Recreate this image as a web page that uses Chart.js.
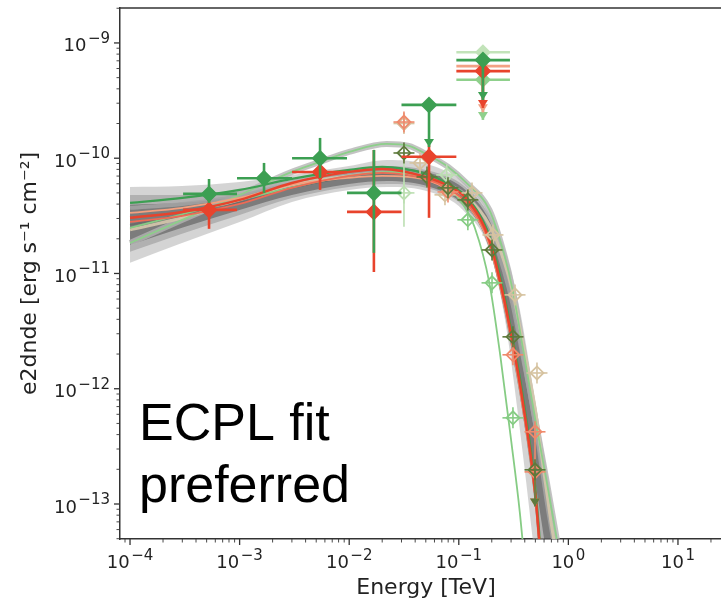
<!DOCTYPE html>
<html>
<head>
<meta charset="utf-8">
<script src="https://cdn.jsdelivr.net/npm/chart.js@4.4.1/dist/chart.umd.min.js"></script>
<style>
html,body{margin:0;padding:0;background:#fff;}
#wrap{width:721px;height:600px;position:relative;}
canvas{display:block;}
</style>
</head>
<body>
<div id="wrap"><canvas id="c" width="721" height="600"></canvas></div>
<script>
// ---------- axis ticks & titles ----------
const X_MAJOR = [1e-4, 1e-3, 1e-2, 1e-1, 1, 10];
const Y_MAJOR = [1e-13, 1e-12, 1e-11, 1e-10, 1e-9];
const X_TITLE = 'Energy [TeV]';
const Y_TITLE = 'e2dnde [erg s\u207B\u00B9 cm\u207B\u00B2]';
const NOTE_LINES = ['ECPL fit', 'preferred'];

// ---------- model bands (energy in TeV, e2dnde in erg s-1 cm-2) ----------
const BAND_E  = [1.0e-4, 2.98e-4, 1.0e-3, 3.0e-3, 9.95e-3, 2.21e-2, 5.46e-2, 0.109, 0.193, 0.264, 0.361, 0.496, 0.679, 0.931];
const WIDE_HI = [5.64e-11, 5.75e-11, 6.23e-11, 7.16e-11, 8.57e-11, 9.66e-11, 8.75e-11, 6.23e-11, 3.22e-11, 1.60e-11, 4.83e-12, 8.0e-13, 1.33e-13, 1.8e-14];
const WIDE_LO = [1.24e-11, 1.84e-11, 2.80e-11, 4.18e-11, 5.31e-11, 5.64e-11, 5.10e-11, 3.56e-11, 1.54e-11, 3.96e-12, 4.40e-13, 3.28e-14, 2.0e-15, 2.7e-16];
const MED_HI  = [4.80e-11, 4.80e-11, 5.31e-11, 6.48e-11, 7.91e-11, 8.57e-11, 7.76e-11, 5.87e-11, 3.10e-11, 1.45e-11, 3.96e-12, 7.25e-13, 1.09e-13, 9.9e-15];
const MED_LO  = [1.54e-11, 2.21e-11, 3.22e-11, 4.52e-11, 5.64e-11, 5.98e-11, 5.42e-11, 3.86e-11, 1.74e-11, 5.34e-12, 8.85e-13, 1.09e-13, 1.48e-14, 1.34e-15];
const DARK_HI = [3.94e-11, 4.10e-11, 4.71e-11, 6.10e-11, 7.61e-11, 8.24e-11, 7.46e-11, 5.53e-11, 2.80e-11, 1.19e-11, 3.24e-12, 5.37e-13, 7.29e-14, 6.64e-15];
const DARK_LO = [1.77e-11, 2.49e-11, 3.56e-11, 4.80e-11, 5.98e-11, 6.35e-11, 5.64e-11, 4.01e-11, 1.88e-11, 5.90e-12, 1.08e-12, 1.62e-13, 2.20e-14, 2.0e-15];

// ---------- model curves ----------
const MODEL_E      = [1e-4, 3e-4, 1e-3, 3e-3, 1e-2, 2e-2, 5e-2, 8e-2, 0.12, 0.19, 0.26, 0.31, 0.38, 0.5, 0.56, 0.63];
const RED_MODEL    = [3.04e-11, 3.42e-11, 4.35e-11, 6.10e-11, 7.61e-11, 8.07e-11, 6.88e-11, 5.75e-11, 4.35e-11, 1.96e-11, 5.90e-12, 2.50e-12, 8.17e-13, 1.20e-13, 3.28e-14, 7.63e-15];
const GREEN_MODEL  = [4.10e-11, 4.52e-11, 5.31e-11, 6.61e-11, 7.91e-11, 8.40e-11, 7.31e-11, 5.98e-11, 4.52e-11, 2.12e-11, 6.52e-12, 2.76e-12, 9.21e-13, 1.38e-13, 3.77e-14, 8.96e-15];
const GRAY_MODEL   = [2.64e-11, 3.22e-11, 4.10e-11, 5.53e-11, 6.88e-11, 7.31e-11, 6.48e-11, 5.31e-11, 3.94e-11, 1.74e-11, 5.24e-12, 2.17e-12, 7.25e-13, 1.09e-13, 2.97e-14, 6.64e-15];
const SALMON_MODEL = [3.35e-11, 3.71e-11, 4.52e-11, 5.87e-11, 6.75e-11, 7.02e-11, 6.48e-11, 5.31e-11, 3.94e-11, 1.77e-11, 5.34e-12, 2.26e-12, 7.25e-13, 1.13e-13, 3.28e-14, 8.1e-15];
const LRED_MODEL   = [2.80e-11, 3.16e-11, 4.01e-11, 5.53e-11, 7.02e-11, 7.46e-11, 6.61e-11, 5.42e-11, 4.01e-11, 1.84e-11, 5.56e-12, 2.40e-12, 7.70e-13, 1.15e-13, 3.15e-14, 7.34e-15];

const WIDE_MODEL_E = [1e-4, 3e-4, 1e-3, 3e-3, 1e-2, 2e-2, 5e-2, 8e-2, 0.12, 0.19, 0.26, 0.31, 0.38, 0.5, 0.56, 0.63, 0.7, 0.8];
const GRAY2_MODEL  = [3.71e-11, 4.01e-11, 4.71e-11, 5.98e-11, 7.31e-11, 7.76e-11, 7.02e-11, 5.87e-11, 4.62e-11, 2.49e-11, 1.03e-11, 5.34e-12, 1.97e-12, 4.86e-13, 2.32e-13, 1.09e-13, 5.97e-14, 2.97e-14];
const TAN_MODEL    = [2.39e-11, 3.04e-11, 4.35e-11, 5.87e-11, 7.02e-11, 7.46e-11, 6.75e-11, 5.64e-11, 4.52e-11, 2.64e-11, 1.26e-11, 6.92e-12, 2.65e-12, 6.56e-13, 2.95e-13, 1.33e-13, 6.6e-14, 3.15e-14];

const ARC_E     = [1e-4, 3e-4, 1e-3, 3e-3, 5.4e-3, 1e-2, 2.2e-2, 3.5e-2, 5e-2, 8e-2, 0.12, 0.19, 0.26, 0.31, 0.38, 0.5, 0.63, 0.8, 0.93];
const ARC_MODEL = [1.84e-11, 2.92e-11, 4.80e-11, 7.61e-11, 9.29e-11, 1.134e-10, 1.33e-10, 1.28e-10, 1.09e-10, 8.40e-11, 5.98e-11, 3.56e-11, 1.45e-11, 7.21e-12, 2.40e-12, 5.37e-13, 1.62e-13, 4.43e-14, 1.80e-14];

const STEEP_E     = [1e-4, 1e-3, 1e-2, 2.5e-2, 5e-2, 8e-2, 0.11, 0.14, 0.19, 0.24, 0.3, 0.36, 0.42];
const STEEP_MODEL = [2.49e-11, 4.35e-11, 7.02e-11, 7.61e-11, 6.75e-11, 5.53e-11, 3.94e-11, 2.49e-11, 8.29e-12, 1.89e-12, 3.60e-13, 8.56e-14, 1.80e-14];

// ---------- flux points: filled diamonds ----------
const GREEN_E   = [5.26e-4, 1.67e-3, 5.42e-3, 1.68e-2, 5.35e-2, 0.166];
const GREEN_F   = [4.9e-11, 6.7e-11, 1.0e-10, 5.0e-11, 2.9e-10, 7.1e-10];
const GREEN_ELO = [3.05e-4, 9.47e-4, 3.01e-3, 9.55e-3, 3.0e-2, 9.5e-2];
const GREEN_EHI = [9.47e-4, 3.01e-3, 9.55e-3, 3.0e-2, 9.5e-2, 0.293];
const GREEN_FLO = [4.1e-11, 5.0e-11, 6.75e-11, 1.51e-11, 1.25e-10, 3.2e-10];
const GREEN_FHI = [6.6e-11, 9.1e-11, 1.5e-10, 1.18e-10, 2.9e-10, 7.1e-10];
const GREEN_UL  = [false, false, false, false, true, true];

const RED_E   = [5.26e-4, 5.42e-3, 1.68e-2, 5.35e-2, 0.166];
const RED_F   = [3.56e-11, 7.6e-11, 3.42e-11, 1.03e-10, 5.7e-10];
const RED_ELO = [3.05e-4, 3.01e-3, 9.55e-3, 3.0e-2, 9.5e-2];
const RED_EHI = [9.47e-4, 9.55e-3, 3.0e-2, 9.5e-2, 0.293];
const RED_FLO = [2.44e-11, 5.31e-11, 1.03e-11, 3.04e-11, 2.73e-10];
const RED_FHI = [4.8e-11, 9.3e-11, 1.18e-10, 1.3e-10, 5.7e-10];
const RED_UL  = [false, false, false, false, true];

const LGREEN_E = [0.166], LGREEN_F = [4.8e-10], LGREEN_ELO = [9.5e-2], LGREEN_EHI = [0.293], LGREEN_FLO = [2.15e-10], LGREEN_FHI = [4.8e-10];
const PGREEN_E = [0.166], PGREEN_F = [8.3e-10], PGREEN_ELO = [9.5e-2], PGREEN_EHI = [0.293];
const SALM_E   = [0.166], SALM_F   = [6.3e-10], SALM_ELO   = [9.5e-2], SALM_EHI   = [0.293], SALM_FLO = [2.5e-10], SALM_FHI = [6.3e-10];

// ---------- flux points: open diamonds ----------
const OLIVE_E = [3.16e-2, 5.13e-2, 7.97e-2, 0.121, 0.201, 0.312, 0.496];
const OLIVE_F = [1.11e-10, 6.88e-11, 5.53e-11, 4.35e-11, 1.60e-11, 2.82e-12, 1.98e-13];
const OLIVE_FLO = [null, null, null, null, null, null, 9.5e-14];
const LGO_E = [0.121, 0.201, 0.312];
const LGO_F = [2.92e-11, 8.29e-12, 5.59e-13];
const SALMO_E = [3.16e-2, 7.97e-2, 0.312, 0.496, 0.496];
const SALMO_F = [2.06e-10, 5.10e-11, 1.97e-12, 4.23e-13, 1.9e-13];
const SALMO_FLO = [null, null, null, 1.98e-13, 9.5e-14];
const TANO_E = [3.16e-2, 4.43e-2, 7.48e-2, 0.132, 0.205, 0.326, 0.517];
const TANO_F = [2.0e-10, 9.1e-11, 4.81e-11, 5.0e-11, 2.16e-11, 6.52e-12, 1.37e-12];
const PALEO_E = [3.16e-2, 7.76e-2];
const PALEO_F = [5.0e-11, 7.16e-11];
const PALEO_FLO = [2.54e-11, null];
const PALEO_FHI = [1.18e-10, null];

// ---------- helpers ----------
const pts = (E, F) => E.map((e, i) => ({x: e, y: F[i]}));
function logTickList(min, max) {
  const out = [];
  const e0 = Math.floor(Math.log10(min)), e1 = Math.floor(Math.log10(max));
  for (let e = e0; e <= e1; e++) {
    for (let k = 1; k <= 9; k++) {
      const v = Number((k * Math.pow(10, e)).toPrecision(6));
      if (v >= min * 0.999 && v <= max * 1.001) out.push({value: v, major: k === 1});
    }
  }
  return out;
}
const isMajorVal = (v, majors) => majors.some(m => Math.abs(Math.log10(v) - Math.log10(m)) < 1e-6);

function band(E, HI, LO, color, order) {
  return [
    {data: pts(E, HI), showLine: true, borderWidth: 0, pointRadius: 0, fill: false, order: order, cubicInterpolationMode: 'monotone'},
    {data: pts(E, LO), showLine: true, borderWidth: 0, pointRadius: 0, fill: '-1', backgroundColor: color, order: order, cubicInterpolationMode: 'monotone'}
  ];
}
function curve(E, F, color, width, order) {
  return {data: pts(E, F), showLine: true, borderColor: color, borderWidth: width, pointRadius: 0, fill: false, order: order, cubicInterpolationMode: 'monotone'};
}
function filled(E, F, color, radius, err, order) {
  return {data: pts(E, F), showLine: false, pointStyle: 'rectRot', pointRadius: radius, pointBackgroundColor: color, pointBorderColor: color, pointBorderWidth: 0, err: err, errColor: color, errWidth: 2.6, order: order};
}
function open(E, F, color, err, order) {
  return {data: pts(E, F), showLine: false, pointStyle: 'rectRot', pointRadius: 6.5, pointBackgroundColor: 'rgba(255,255,255,0)', pointBorderColor: color, pointBorderWidth: 1.8, crossMarker: true, err: err, errColor: color, errWidth: 1.6, order: order};
}

const datasets = [
  ...band(BAND_E, WIDE_HI, WIDE_LO, 'rgba(170,170,170,0.5)', 300),
  ...band(BAND_E, MED_HI, MED_LO, 'rgba(125,125,125,0.4)', 290),
  ...band(BAND_E, DARK_HI, DARK_LO, 'rgba(60,60,60,0.45)', 280),
  curve(ARC_E, ARC_MODEL, 'rgba(180,180,180,0.8)', 6, 200),
  curve(WIDE_MODEL_E, GRAY2_MODEL, 'rgba(165,165,165,0.85)', 4, 195),
  curve(WIDE_MODEL_E, TAN_MODEL, 'rgba(214,200,172,0.9)', 3, 190),
  curve(MODEL_E, GRAY_MODEL, 'rgba(105,105,105,0.8)', 2, 185),
  curve(ARC_E, ARC_MODEL, '#8dcf8a', 1.8, 180),
  curve(STEEP_E, STEEP_MODEL, '#86cc84', 1.8, 175),
  curve(MODEL_E, SALMON_MODEL, '#f4a07f', 1.8, 170),
  curve(MODEL_E, LRED_MODEL, '#ef6a55', 1.8, 165),
  curve(MODEL_E, GREEN_MODEL, '#3c9f52', 2.2, 160),
  curve(MODEL_E, RED_MODEL, '#e8432c', 2.5, 155),
  open(TANO_E, TANO_F, '#d6c3a0', null, 60),
  open(PALEO_E, PALEO_F, '#bcdfb2', {ylo: PALEO_FLO, yhi: PALEO_FHI}, 58),
  open(LGO_E, LGO_F, '#86cc84', null, 56),
  open(SALMO_E, SALMO_F, '#ef8a6c', {ylo: SALMO_FLO, yhi: SALMO_F, ul: [false, false, false, false, true]}, 54),
  open(OLIVE_E, OLIVE_F, '#5e7a3c', {ylo: OLIVE_FLO, yhi: OLIVE_F, ul: [false, false, false, false, false, false, true]}, 52),
  filled(PGREEN_E, PGREEN_F, '#c2e3b9', 8, {xlo: PGREEN_ELO, xhi: PGREEN_EHI}, 40),
  filled(LGREEN_E, LGREEN_F, '#8fd08c', 8, {xlo: LGREEN_ELO, xhi: LGREEN_EHI, ylo: LGREEN_FLO, yhi: LGREEN_FHI, ul: [true]}, 38),
  filled(SALM_E, SALM_F, '#f3a184', 6, {xlo: SALM_ELO, xhi: SALM_EHI, ylo: SALM_FLO, yhi: SALM_FHI, ul: [true]}, 36),
  filled(RED_E, RED_F, '#e8432c', 8.5, {xlo: RED_ELO, xhi: RED_EHI, ylo: RED_FLO, yhi: RED_FHI, ul: RED_UL}, 34),
  filled(GREEN_E, GREEN_F, '#3c9f52', 8.5, {xlo: GREEN_ELO, xhi: GREEN_EHI, ylo: GREEN_FLO, yhi: GREEN_FHI, ul: GREEN_UL}, 32)
];

// ---------- plugins ----------
const errPlugin = {
  id: 'errbars',
  beforeDatasetDraw(chart, args) {
    const ds = chart.data.datasets[args.index];
    if (!ds.err && !ds.crossMarker) return;
    const xs = chart.scales.x, ys = chart.scales.y, ctx = chart.ctx, a = chart.chartArea;
    ctx.save();
    ctx.beginPath(); ctx.rect(a.left, a.top, a.right - a.left, a.bottom - a.top); ctx.clip();
    ctx.strokeStyle = ds.errColor; ctx.fillStyle = ds.errColor; ctx.lineWidth = ds.errWidth;
    const seg = (x1, y1, x2, y2) => { ctx.beginPath(); ctx.moveTo(x1, y1); ctx.lineTo(x2, y2); ctx.stroke(); };
    ds.data.forEach((p, i) => {
      const px = xs.getPixelForValue(p.x), py = ys.getPixelForValue(p.y);
      const e = ds.err;
      if (e) {
        if (e.xlo && e.xlo[i] != null) seg(xs.getPixelForValue(e.xlo[i]), py, xs.getPixelForValue(e.xhi[i]), py);
        if (e.ylo && e.ylo[i] != null) {
          const y1 = ys.getPixelForValue(e.ylo[i]), y2 = ys.getPixelForValue(e.yhi[i]);
          seg(px, y1, px, y2);
          if (e.ul && e.ul[i]) {
            ctx.beginPath(); ctx.moveTo(px - 5, y1 - 8); ctx.lineTo(px + 5, y1 - 8); ctx.lineTo(px, y1); ctx.closePath(); ctx.fill();
          }
        }
      }
      if (ds.crossMarker) {
        const r = ds.pointRadius + 4;
        seg(px - r, py, px + r, py); seg(px, py - r, px, py + r);
      }
    });
    ctx.restore();
  }
};

function drawPow(ctx, v, x, baseline, align) {
  const exp = Math.round(Math.log10(v));
  const base = '10', sup = (exp < 0 ? '\u2212' : '') + Math.abs(exp);
  const big = '18px "DejaVu Sans"', small = '15px "DejaVu Sans"';
  ctx.font = big; const w1 = ctx.measureText(base).width;
  ctx.font = small; const w2 = ctx.measureText(sup).width;
  const gap = 1.5;
  const total = w1 + gap + w2;
  const x0 = align === 'right' ? x - total : x - total / 2;
  ctx.textAlign = 'left'; ctx.textBaseline = 'alphabetic';
  ctx.font = big; ctx.fillText(base, x0, baseline);
  ctx.font = small; ctx.fillText(sup, x0 + w1 + gap, baseline - 8.5);
}

const decoPlugin = {
  id: 'deco',
  afterDraw(chart) {
    const ctx = chart.ctx, a = chart.chartArea, xs = chart.scales.x, ys = chart.scales.y;
    ctx.save();
    ctx.strokeStyle = '#333'; ctx.lineWidth = 1.5;
    ctx.beginPath(); ctx.moveTo(a.left, a.top); ctx.lineTo(a.right, a.top); ctx.stroke();
    xs.ticks.forEach(t => {
      const p = xs.getPixelForValue(t.value);
      const maj = isMajorVal(t.value, X_MAJOR);
      ctx.lineWidth = maj ? 1.3 : 0.9;
      ctx.beginPath(); ctx.moveTo(p, a.bottom); ctx.lineTo(p, a.bottom + (maj ? 6 : 3.5)); ctx.stroke();
    });
    ys.ticks.forEach(t => {
      const p = ys.getPixelForValue(t.value);
      const maj = isMajorVal(t.value, Y_MAJOR);
      ctx.lineWidth = maj ? 1.3 : 0.9;
      ctx.beginPath(); ctx.moveTo(a.left, p); ctx.lineTo(a.left - (maj ? 6 : 3.5), p); ctx.stroke();
    });
    // tick labels (matplotlib-style powers of ten)
    ctx.fillStyle = '#222';
    X_MAJOR.forEach(v => drawPow(ctx, v, xs.getPixelForValue(v), a.bottom + 29, 'center'));
    Y_MAJOR.forEach(v => drawPow(ctx, v, a.left - 10, ys.getPixelForValue(v) + 8.5, 'right'));
    // x-axis title
    ctx.font = '22px "DejaVu Sans"'; ctx.textAlign = 'center'; ctx.textBaseline = 'alphabetic';
    ctx.fillText(X_TITLE, 426, 594);
    // y-axis title
    ctx.save();
    ctx.translate(30, (a.top + a.bottom) / 2); ctx.rotate(-Math.PI / 2);
    ctx.textBaseline = 'middle'; ctx.fillText(Y_TITLE, 0, 0);
    ctx.restore();
    // annotation
    ctx.fillStyle = '#000';
    ctx.font = '52px "Liberation Sans", Arial, sans-serif';
    ctx.textAlign = 'left'; ctx.textBaseline = 'alphabetic';
    ctx.fillText(NOTE_LINES[0], 139, 440);
    ctx.fillText(NOTE_LINES[1], 139, 502);
    ctx.restore();
  }
};

Chart.defaults.font.family = '"DejaVu Sans", sans-serif';
Chart.defaults.color = '#222';

new Chart(document.getElementById('c'), {
  type: 'scatter',
  data: {datasets: datasets},
  plugins: [errPlugin, decoPlugin],
  options: {
    responsive: false,
    animation: false,
    events: [],
    layout: {autoPadding: false, padding: {top: 8, left: 0, right: 0, bottom: 0}},
    plugins: {legend: {display: false}, tooltip: {enabled: false}},
    scales: {
      x: {
        type: 'logarithmic', min: 8.1e-5, max: 24.7, bounds: 'data',
        afterBuildTicks: s => { s.ticks = logTickList(8.1e-5, 24.7); },
        afterFit: s => { s.height = 61; s.paddingLeft = 0; s.paddingRight = 0; s.paddingTop = 0; s.paddingBottom = 0; },
        grid: {display: false, drawTicks: false, tickLength: 0},
        border: {display: true, color: '#333', width: 1.5},
        ticks: {display: false, autoSkip: false},
        title: {display: false}
      },
      y: {
        type: 'logarithmic', min: 4.97e-14, max: 2.01e-9, bounds: 'data',
        afterBuildTicks: s => { s.ticks = logTickList(4.97e-14, 2.01e-9); },
        afterFit: s => { s.width = 120; s.paddingLeft = 0; s.paddingRight = 0; s.paddingTop = 0; s.paddingBottom = 0; },
        grid: {display: false, drawTicks: false, tickLength: 0},
        border: {display: true, color: '#333', width: 1.5},
        ticks: {display: false, autoSkip: false},
        title: {display: false}
      }
    }
  }
});
</script>
</body>
</html>
